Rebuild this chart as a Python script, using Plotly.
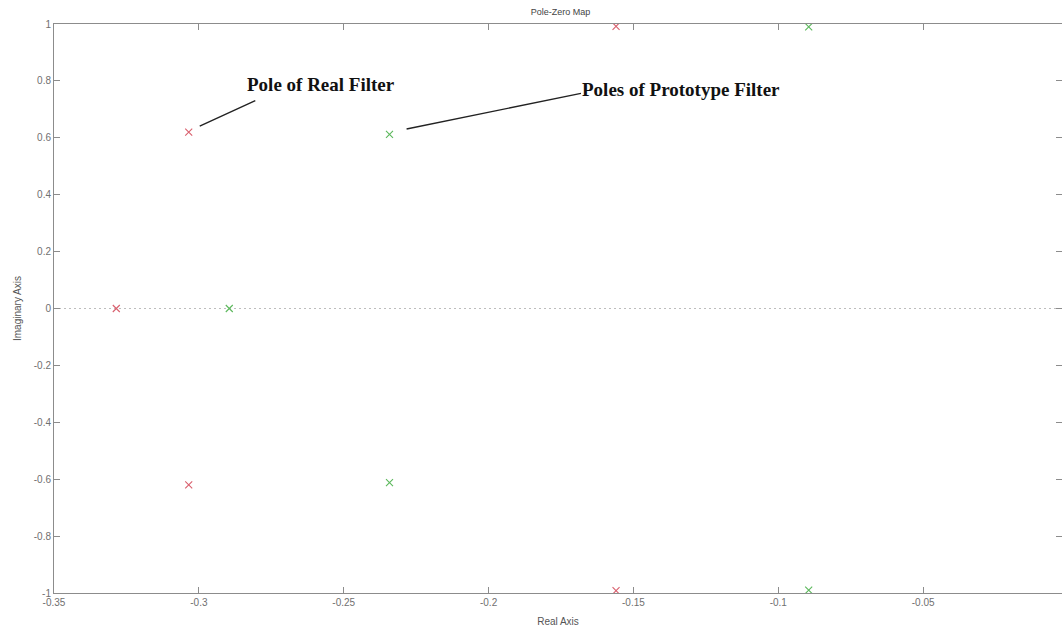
import plotly.graph_objects as go

# Pole locations (real, imaginary)
real_filter_re = [-0.3285, -0.3035, -0.3035, -0.1560, -0.1560]
real_filter_im = [0.0, 0.620, -0.620, 0.992, -0.992]

proto_filter_re = [-0.2895, -0.2342, -0.2342, -0.0895, -0.0895]
proto_filter_im = [0.0, 0.612, -0.612, 0.990, -0.990]

x_ticks = [-0.35, -0.3, -0.25, -0.2, -0.15, -0.1, -0.05]
x_tick_labels = ["-0.35", "-0.3", "-0.25", "-0.2", "-0.15", "-0.1", "-0.05"]
y_ticks = [1, 0.8, 0.6, 0.4, 0.2, 0, -0.2, -0.4, -0.6, -0.8, -1]
y_tick_labels = ["1", "0.8", "0.6", "0.4", "0.2", "0", "-0.2", "-0.4", "-0.6", "-0.8", "-1"]

W, H = 1062, 632
ML, MR, MT, MB = 54, 0, 24, 39
px_per_unit = 2900.0
x_lo = -0.35
x_hi = x_lo + (W - ML - MR + 1) / px_per_unit

axis_col = "#8c8c8c"
text_col = "#707070"

fig = go.Figure()

fig.add_trace(go.Scatter(
    x=real_filter_re, y=real_filter_im, mode="markers",
    marker=dict(symbol="x-thin-open", size=7, color="#d9606e",
                line=dict(width=1.1, color="#d9606e")),
    showlegend=False, hoverinfo="x+y",
))
fig.add_trace(go.Scatter(
    x=proto_filter_re, y=proto_filter_im, mode="markers",
    marker=dict(symbol="x-thin-open", size=7, color="#5cb85c",
                line=dict(width=1.1, color="#5cb85c")),
    showlegend=False, hoverinfo="x+y",
))

# dotted real-axis reference line
fig.add_shape(type="line", xref="paper", yref="y", x0=0, x1=1, y0=0, y1=0,
              line=dict(color="#bdbdbd", width=1.2, dash="2px,3px"), layer="below")

label_font = dict(family="Liberation Serif", size=19, color="#111111")

# Callouts
fig.add_annotation(x=-0.2997, y=0.641, ax=-0.280, ay=0.733,
                   xref="x", yref="y", axref="x", ayref="y",
                   showarrow=True, arrowhead=0, arrowwidth=1.4,
                   arrowcolor="#222222", text="")
fig.add_annotation(x=-0.2841, y=0.786, xref="x", yref="y",
                   text="<b>Pole of Real Filter</b>", showarrow=False,
                   xanchor="left", yanchor="middle", font=label_font)

fig.add_annotation(x=-0.2283, y=0.631, ax=-0.1676, ay=0.757,
                   xref="x", yref="y", axref="x", ayref="y",
                   showarrow=True, arrowhead=0, arrowwidth=1.4,
                   arrowcolor="#222222", text="")
fig.add_annotation(x=-0.1683, y=0.771, xref="x", yref="y",
                   text="<b>Poles of Prototype Filter</b>", showarrow=False,
                   xanchor="left", yanchor="middle", font=label_font)

fig.update_layout(
    width=W, height=H,
    margin=dict(l=ML, r=MR, t=MT, b=MB),
    paper_bgcolor="white", plot_bgcolor="white",
    font=dict(family="Liberation Sans", size=10, color=text_col),
    title=dict(text="Pole-Zero Map", x=(ML + 1067) / 2 / W, xanchor="center",
               y=1 - 12 / H, yanchor="middle",
               font=dict(size=9, color="#444444")),
    xaxis=dict(
        range=[x_lo, x_hi], tickvals=x_ticks, ticktext=x_tick_labels,
        showgrid=False, zeroline=False, showline=True, linecolor=axis_col,
        linewidth=1, mirror="ticks", ticks="inside", ticklen=6,
        tickcolor=axis_col, tickfont=dict(size=10, color=text_col),
        title=dict(text="Real Axis", standoff=10,
                   font=dict(size=10, color="#555555")),
    ),
    yaxis=dict(
        range=[-1, 1], tickvals=y_ticks, ticktext=y_tick_labels,
        showgrid=False, zeroline=False, showline=True, linecolor=axis_col,
        linewidth=1, mirror="ticks", ticks="inside", ticklen=6,
        tickcolor=axis_col, tickfont=dict(size=10, color=text_col),
        title=dict(text="Imaginary Axis", standoff=10,
                   font=dict(size=10, color="#555555")),
    ),
)

fig.write_html("out.html")
